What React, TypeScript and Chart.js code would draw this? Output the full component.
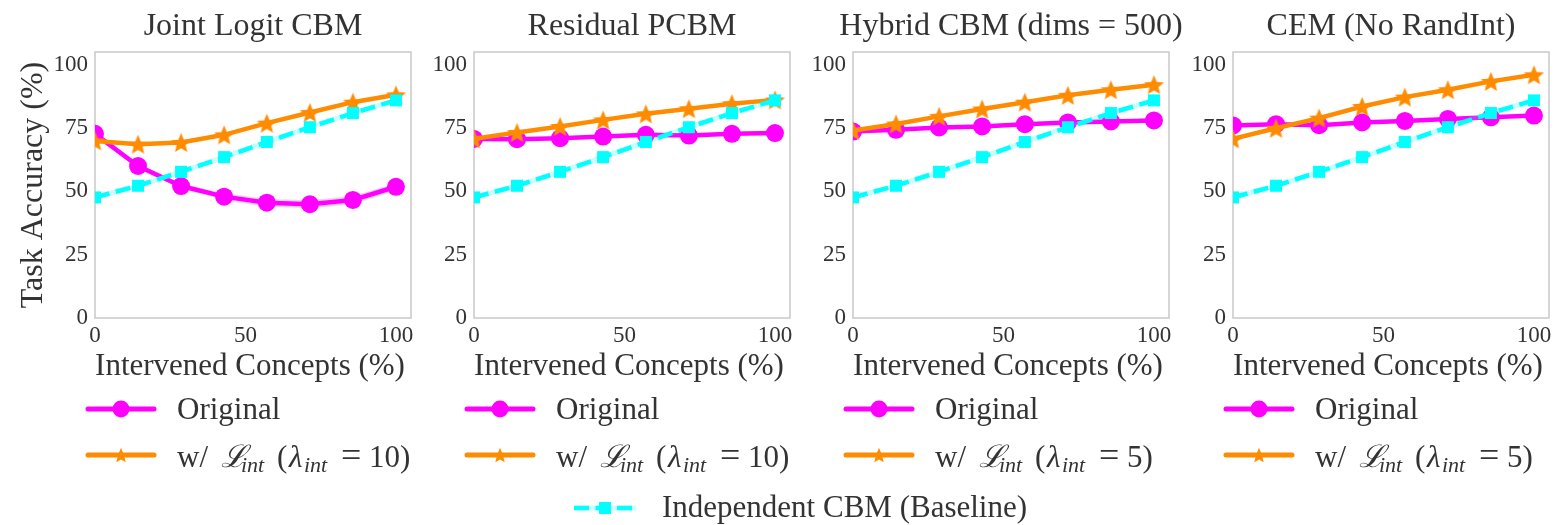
import React, { useEffect, useRef } from "react";
import { Chart, registerables } from "chart.js";

Chart.register(...registerables);

const FONT = "'Liberation Serif', 'DejaVu Serif', serif";
const TEXT = "#333333";
const MAGENTA = "#ff00ff";
const ORANGE = "#ff8c00";
const CYAN = "#00ffff";

// ---------- data ----------
const interventionPct = [0, 14.3, 28.6, 42.9, 57.1, 71.4, 85.7, 100];
const baselineAcc = [47.6, 52.2, 57.7, 63.5, 69.5, 75.3, 80.9, 85.9];

const jointOriginal = [72.7, 60.0, 52.1, 47.9, 45.5, 44.9, 46.6, 51.8];
const jointOriginalStd = [0.4, 0.8, 1.0, 1.3, 1.5, 1.6, 1.6, 1.4];
const jointIntLoss = [69.9, 68.6, 69.3, 72.3, 76.9, 81.1, 85.2, 88.1];

const residualOriginal = [70.7, 70.6, 71.0, 71.6, 72.3, 72.0, 72.7, 73.0];
const residualIntLoss = [70.7, 73.2, 75.6, 78.2, 80.6, 82.6, 84.6, 86.1];

const hybridOriginal = [73.6, 74.3, 75.2, 75.6, 76.5, 77.2, 77.6, 78.0];
const hybridIntLoss = [74.0, 76.6, 79.6, 82.5, 85.2, 87.9, 90.1, 92.1];

const cemOriginal = [76.0, 76.5, 76.1, 77.2, 77.8, 78.6, 79.2, 79.9];
const cemIntLoss = [70.7, 74.9, 78.9, 83.5, 87.2, 90.1, 93.4, 96.0];

const panelTitles = ["Joint Logit CBM", "Residual PCBM", "Hybrid CBM (dims = 500)", "CEM (No RandInt)"];
const lambdaValues = ["10", "10", "5", "5"];
const xTicks = [0, 50, 100];
const yTicks = [0, 25, 50, 75, 100];

const panels = [
  { original: jointOriginal, originalStd: jointOriginalStd, intLoss: jointIntLoss },
  { original: residualOriginal, originalStd: null, intLoss: residualIntLoss },
  { original: hybridOriginal, originalStd: null, intLoss: hybridIntLoss },
  { original: cemOriginal, originalStd: null, intLoss: cemIntLoss },
];

// ---------- layout ----------
const PANEL_LEFTS = [95, 474, 853, 1233];
const CANVAS_W = 430;
const CANVAS_H = 525;
const AREA_LEFT = 95;
const AREA_TOP = 52;
const AREA_W = 316;
const AREA_BOTTOM = 318;
const XAXIS_H = 30;

const TITLE_SIZE = 32;
const LABEL_SIZE = 31;
const TICK_SIZE = 23;
const SUB_SIZE = 22;

function makeStar(R: number, color: string) {
  const c = document.createElement("canvas");
  const s = Math.ceil(R * 2 + 2);
  c.width = s;
  c.height = s;
  const g = c.getContext("2d")!;
  g.fillStyle = color;
  g.beginPath();
  const r = R * 0.45;
  for (let i = 0; i < 10; i++) {
    const rad = i % 2 === 0 ? R : r;
    const ang = -Math.PI / 2 + (i * Math.PI) / 5;
    const px = s / 2 + rad * Math.cos(ang);
    const py = s / 2 + rad * Math.sin(ang) + R * 0.1;
    if (i === 0) g.moveTo(px, py);
    else g.lineTo(px, py);
  }
  g.closePath();
  g.fill();
  return c;
}

function pts(values: number[]) {
  return values.map((v, i) => ({ x: interventionPct[i], y: v }));
}

function drawLambdaLabel(ctx: CanvasRenderingContext2D, x: number, y: number, lam: string) {
  const reg = `${LABEL_SIZE}px ${FONT}`;
  const ital = `italic ${LABEL_SIZE}px ${FONT}`;
  const sub = `italic ${SUB_SIZE}px ${FONT}`;
  const eq = `36px ${FONT}`;
  // [text, font, x offset, baseline shift]
  const segs: [string, string, number, number][] = [
    ["w/", reg, 0, 0],
    ["\u2112", ital, 44, 0],
    ["int", sub, 64, 5],
    ["(", reg, 100, 0],
    ["\u03bb", ital, 112, 0],
    ["int", sub, 127, 5],
    ["=", eq, 164, 0],
    [lam + ")", reg, 192, 0],
  ];
  for (const [t, f, dx, dy] of segs) {
    ctx.font = f;
    ctx.fillText(t, x + dx, y + dy);
  }
}

function drawLegendSample(
  ctx: CanvasRenderingContext2D,
  x0: number,
  x1: number,
  y: number,
  kind: "circle" | "star",
  star: HTMLCanvasElement
) {
  const color = kind === "circle" ? MAGENTA : ORANGE;
  ctx.save();
  ctx.strokeStyle = color;
  ctx.lineWidth = 5;
  ctx.lineCap = "round";
  ctx.beginPath();
  ctx.moveTo(x0, y);
  ctx.lineTo(x1, y);
  ctx.stroke();
  const mx = (x0 + x1) / 2;
  if (kind === "circle") {
    ctx.fillStyle = color;
    ctx.beginPath();
    ctx.arc(mx, y, 8.5, 0, Math.PI * 2);
    ctx.fill();
  } else {
    ctx.drawImage(star, mx - star.width / 2, y - star.height / 2);
  }
  ctx.restore();
}

function Panel({ index }: { index: number }) {
  const ref = useRef<HTMLCanvasElement>(null);
  useEffect(() => {
    const canvas = ref.current!;
    const star = makeStar(10.5, ORANGE);
    const legendStar = makeStar(8, ORANGE);
    const p = panels[index];
    const datasets: any[] = [];
    datasets.push({
      data: pts(baselineAcc),
      borderColor: CYAN,
      borderWidth: 4.5,
      borderDash: [15, 6.5],
      pointStyle: "rect",
      pointRadius: 8.5,
      pointBackgroundColor: CYAN,
      pointBorderColor: CYAN,
      pointBorderWidth: 0,
      order: 0,
    });
    datasets.push({
      data: pts(baselineAcc),
      borderColor: "rgba(0,255,255,0.22)",
      borderWidth: 5,
      pointRadius: 0,
      order: 1,
    });
    datasets.push({
      data: pts(p.intLoss),
      borderColor: ORANGE,
      borderWidth: 4.5,
      pointStyle: star,
      pointRadius: 10,
      order: 2,
    });
    datasets.push({
      data: pts(p.original),
      borderColor: MAGENTA,
      borderWidth: 4.5,
      pointStyle: "circle",
      pointRadius: 9,
      pointBackgroundColor: MAGENTA,
      pointBorderColor: MAGENTA,
      pointBorderWidth: 0,
      order: 3,
    });
    if (p.originalStd) {
      const std = p.originalStd;
      datasets.push({
        data: pts(p.original.map((v, i) => v + std[i])),
        borderWidth: 0,
        pointRadius: 0,
        fill: "+1",
        backgroundColor: "rgba(255,0,255,0.2)",
        order: 4,
      });
      datasets.push({
        data: pts(p.original.map((v, i) => v - std[i])),
        borderWidth: 0,
        pointRadius: 0,
        fill: false,
        order: 5,
      });
    }

    const decor = {
      id: "decor",
      beforeDatasetsDraw(chart: any) {
        const { ctx, chartArea: a } = chart;
        ctx.save();
        ctx.strokeStyle = "#cccccc";
        ctx.lineWidth = 1.6;
        ctx.strokeRect(a.left, a.top, a.right - a.left, a.bottom - a.top);
        ctx.restore();
      },
      afterDraw(chart: any) {
        const { ctx, chartArea: a } = chart;
        const cxm = (a.left + a.right) / 2;
        ctx.save();
        ctx.fillStyle = TEXT;
        ctx.textBaseline = "alphabetic";
        ctx.textAlign = "center";
        ctx.font = `${TITLE_SIZE}px ${FONT}`;
        ctx.fillText(panelTitles[index], cxm, 35);
        ctx.font = `${LABEL_SIZE}px ${FONT}`;
        ctx.fillText("Intervened Concepts (%)", cxm - 3, 375);
        if (index === 0) {
          ctx.save();
          ctx.font = `${TITLE_SIZE}px ${FONT}`;
          ctx.translate(42, (a.top + a.bottom) / 2);
          ctx.rotate(-Math.PI / 2);
          ctx.fillText("Task Accuracy (%)", 0, 0);
          ctx.restore();
        }
        ctx.textAlign = "left";
        drawLegendSample(ctx, a.left - 7, a.left + 59, 409, "circle", legendStar);
        drawLegendSample(ctx, a.left - 7, a.left + 59, 455, "star", legendStar);
        ctx.fillStyle = TEXT;
        ctx.font = `${LABEL_SIZE}px ${FONT}`;
        ctx.fillText("Original", a.left + 82, 419);
        drawLambdaLabel(ctx, a.left + 82, 467, lambdaValues[index]);
        ctx.restore();
      },
    };

    const chart = new Chart(canvas, {
      type: "line",
      data: { datasets },
      options: {
        animation: false,
        responsive: false,
        events: [],
        layout: {
          padding: {
            left: 0,
            top: AREA_TOP,
            right: CANVAS_W - AREA_LEFT - AREA_W,
            bottom: CANVAS_H - AREA_BOTTOM - XAXIS_H,
          },
        },
        plugins: {
          legend: { display: false },
          tooltip: { enabled: false },
          title: { display: false },
        },
        scales: {
          x: {
            type: "linear",
            min: 0,
            max: 105,
            grid: { display: false, drawTicks: false },
            border: { display: false },
            ticks: {
              font: { family: FONT, size: TICK_SIZE },
              color: TEXT,
              padding: 4,
              maxRotation: 0,
              autoSkip: false,
            },
            afterBuildTicks: (s: any) => {
              s.ticks = xTicks.map((v) => ({ value: v }));
            },
            afterFit: (s: any) => {
              s.height = XAXIS_H;
            },
          },
          y: {
            type: "linear",
            min: 0,
            max: 105,
            grid: { display: false, drawTicks: false },
            border: { display: false },
            ticks: {
              font: { family: FONT, size: TICK_SIZE },
              color: TEXT,
              padding: 7,
              autoSkip: false,
            },
            afterBuildTicks: (s: any) => {
              s.ticks = yTicks.map((v) => ({ value: v }));
            },
            afterFit: (s: any) => {
              s.width = AREA_LEFT;
            },
          },
        },
      } as any,
      plugins: [decor],
    });
    return () => chart.destroy();
  }, [index]);
  return (
    <canvas
      ref={ref}
      width={CANVAS_W}
      height={CANVAS_H}
      style={{ position: "absolute", left: PANEL_LEFTS[index] - AREA_LEFT, top: 0, width: CANVAS_W, height: CANVAS_H }}
    />
  );
}

function BottomLegend() {
  const ref = useRef<HTMLCanvasElement>(null);
  useEffect(() => {
    const c = ref.current!;
    const ctx = c.getContext("2d")!;
    ctx.clearRect(0, 0, c.width, c.height);
    const y = 28;
    ctx.save();
    ctx.strokeStyle = "rgba(0,255,255,0.22)";
    ctx.lineWidth = 5;
    ctx.beginPath();
    ctx.moveTo(574, y);
    ctx.lineTo(636, y);
    ctx.stroke();
    ctx.strokeStyle = CYAN;
    ctx.lineWidth = 4.5;
    ctx.setLineDash([15, 6.5]);
    ctx.beginPath();
    ctx.moveTo(574, y);
    ctx.lineTo(636, y);
    ctx.stroke();
    ctx.setLineDash([]);
    ctx.fillStyle = CYAN;
    ctx.fillRect(605 - 6, y - 6, 12, 12);
    ctx.fillStyle = TEXT;
    ctx.font = `${LABEL_SIZE}px ${FONT}`;
    ctx.textBaseline = "alphabetic";
    ctx.fillText("Independent CBM (Baseline)", 662, 37);
    ctx.restore();
  }, []);
  return (
    <canvas
      ref={ref}
      width={1555}
      height={45}
      style={{ position: "absolute", left: 0, top: 480, width: 1555, height: 45 }}
    />
  );
}

export default function App() {
  return (
    <div
      style={{
        position: "absolute",
        left: 0,
        top: 0,
        width: 1555,
        height: 525,
        overflow: "hidden",
        background: "#ffffff",
      }}
    >
      {[0, 1, 2, 3].map((i) => (
        <Panel key={i} index={i} />
      ))}
      <BottomLegend />
    </div>
  );
}
